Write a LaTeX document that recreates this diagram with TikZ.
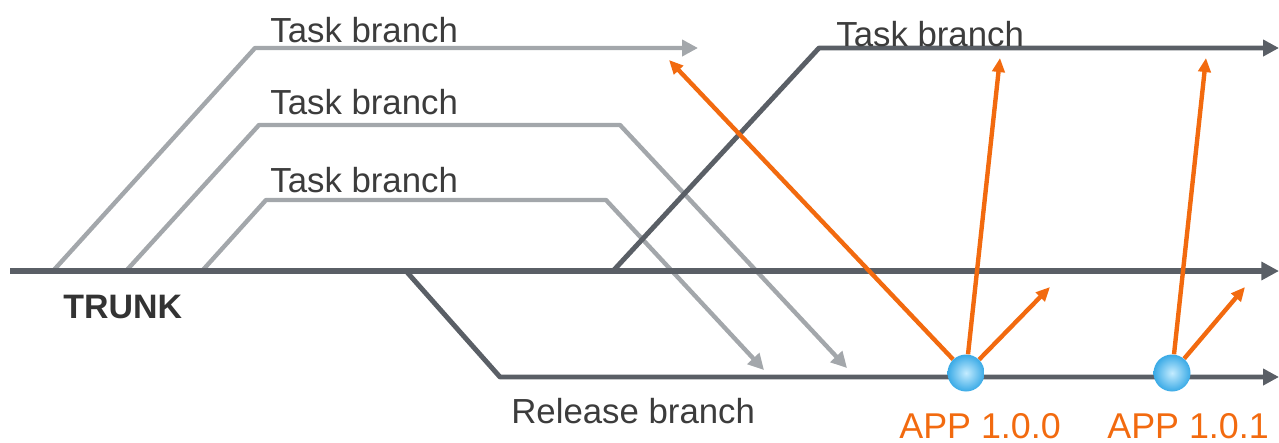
\documentclass[tikz,border=0pt]{standalone}
\usepackage{fontspec}
\setmainfont{Liberation Sans}
\usetikzlibrary{arrows.meta}
\definecolor{darkln}{HTML}{5A5F66}
\definecolor{lightln}{HTML}{A3A7AB}
\definecolor{orng}{HTML}{F26A0F}
\definecolor{txt}{HTML}{3C3C3C}
\definecolor{bluec}{HTML}{3AAAE6}
\definecolor{bluel}{HTML}{C4ECFF}
\begin{document}
\begin{tikzpicture}[x=0.02cm,y=-0.02cm,
  lbl/.style={font=\fontsize{19.8}{24}\selectfont, text=txt, inner sep=0pt, anchor=base west},
  applbl/.style={font=\fontsize{20.4}{24}\selectfont, text=orng, inner sep=0pt, anchor=base west},
  trunkln/.style={draw=darkln, line width=3.6pt, -{Triangle[length=10pt,width=10pt]}},
  darkbr/.style={draw=darkln, line width=2.8pt, line join=round, -{Triangle[length=9pt,width=9pt]}},
  lightbr/.style={draw=lightln, line width=2.5pt, line join=round, -{Triangle[length=9pt,width=9pt]}},
  orngarr/.style={draw=orng, line width=2.5pt, -{Triangle[length=8pt,width=7pt]}},
  release/.style={circle, minimum size=0.74cm, inner sep=0pt, inner color=bluel, outer color=bluec}
]
\useasboundingbox (0,0) rectangle (1279,443);
% coordinates
\coordinate (t0) at (10,271);
\coordinate (tE) at (1279,271);
\coordinate (a1) at (53,271);
\coordinate (a2) at (255,48);
\coordinate (a3) at (698,48);
\coordinate (b1) at (126,271);
\coordinate (b2) at (259,125);
\coordinate (b3) at (620,125);
\coordinate (b4) at (847,368);
\coordinate (c1) at (202,271);
\coordinate (c2) at (266,200);
\coordinate (c3) at (606,200);
\coordinate (c4) at (764,370);
\coordinate (d1) at (613,271);
\coordinate (d2) at (819,48);
\coordinate (dE) at (1279,48);
\coordinate (r0) at (406,271);
\coordinate (r1) at (500,377);
\coordinate (rE) at (1279,377);
% task branches (light)
\draw[lightbr] (a1) -- (a2) -- (a3);
\draw[lightbr] (b1) -- (b2) -- (b3) -- (b4);
\draw[lightbr] (c1) -- (c2) -- (c3) -- (c4);
% dark lines
\draw[trunkln] (t0) -- (tE);
\draw[darkbr] (d1) -- (d2) -- (dE);
\draw[darkbr] (r0) -- (r1) -- (rE);
% releases
\node[release] (p1) at (966,373) {};
\node[release] (p2) at (1172,373) {};
% orange merges
\coordinate (o1) at (669,60);
\coordinate (o2) at (1000,58);
\coordinate (o3) at (1050,287);
\coordinate (o4) at (1206,58);
\coordinate (o5) at (1245,287);
\draw[orngarr] (p1) -- (o1);
\draw[orngarr] (p1) -- (o2);
\draw[orngarr] (p1) -- (o3);
\draw[orngarr] (p2) -- (o4);
\draw[orngarr] (p2) -- (o5);
% labels
\node[lbl] (l1) at (270,42) {Task branch};
\node[lbl] (l2) at (270,114) {Task branch};
\node[lbl] (l3) at (270,192) {Task branch};
\node[lbl] (l4) at (836,46) {Task branch};
\node[lbl, font=\fontsize{19.3}{24}\selectfont\bfseries, text=black!80] (tr) at (63,318) {TRUNK};
\node[lbl] (rb) at (511,423) {Release branch};
\node[applbl] (v1) at (899,438) {APP 1.0.0};
\node[applbl] (v2) at (1107,438) {APP 1.0.1};
\end{tikzpicture}
\end{document}
